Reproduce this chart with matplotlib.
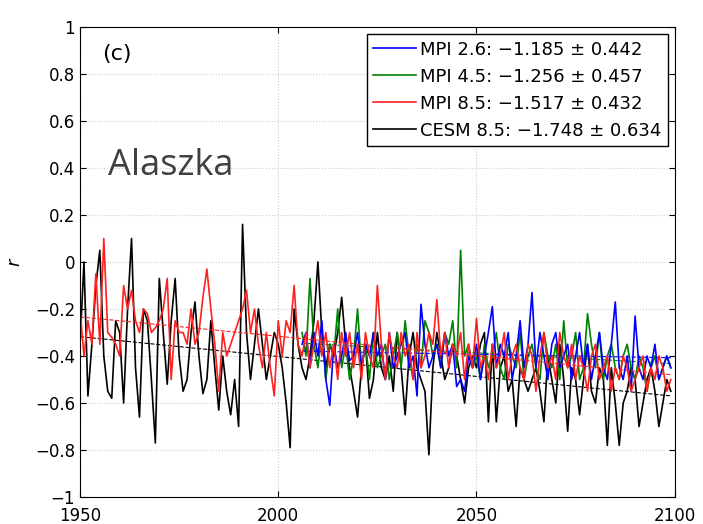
import numpy as np
import matplotlib.pyplot as plt

# annual correlation values
hist_years = np.arange(1950, 2100)
proj_years = np.arange(2006, 2100)

cesm85 = [-0.35, 0.0, -0.57, -0.35, -0.1, 0.05, -0.4, -0.55, -0.58, -0.25,
          -0.3, -0.6, -0.2, 0.1, -0.45, -0.66, -0.2, -0.25, -0.5, -0.77,
          -0.07, -0.3, -0.52, -0.25, -0.07, -0.4, -0.55, -0.5, -0.3, -0.17,
          -0.4, -0.56, -0.5, -0.25, -0.45, -0.63, -0.4, -0.55, -0.65, -0.5,
          -0.7, 0.16, -0.3, -0.5, -0.35, -0.2, -0.35, -0.5, -0.4, -0.3,
          -0.35, -0.45, -0.6, -0.79, -0.2, -0.35, -0.45, -0.5, -0.4, -0.25,
          0.0, -0.3, -0.45, -0.35, -0.4, -0.3, -0.15, -0.35, -0.45, -0.55,
          -0.66, -0.45, -0.35, -0.58, -0.5, -0.3, -0.45, -0.5, -0.4, -0.55,
          -0.3, -0.45, -0.65, -0.4, -0.3, -0.45, -0.5, -0.55, -0.82, -0.45,
          -0.3, -0.4, -0.5, -0.45, -0.35, -0.4, -0.5, -0.6, -0.45, -0.4,
          -0.45, -0.35, -0.3, -0.68, -0.35, -0.68, -0.45, -0.4, -0.55, -0.5,
          -0.7, -0.45, -0.5, -0.55, -0.5, -0.45, -0.55, -0.68, -0.4, -0.5,
          -0.6, -0.35, -0.5, -0.72, -0.45, -0.5, -0.65, -0.5, -0.35, -0.55,
          -0.6, -0.45, -0.5, -0.78, -0.45, -0.6, -0.78, -0.6, -0.55, -0.45,
          -0.5, -0.7, -0.6, -0.5, -0.45, -0.55, -0.7, -0.6, -0.5, -0.55]

mpi85 = [-0.2, -0.4, -0.25, -0.35, -0.05, -0.35, 0.1, -0.3, -0.32, -0.35,
         -0.4, -0.1, -0.2, -0.12, -0.25, -0.3, -0.2, -0.22, -0.3, -0.28,
         -0.25, -0.2, -0.07, -0.5, -0.25, -0.3, -0.3, -0.35, -0.2, -0.35,
         -0.3, -0.15, -0.03, -0.2, -0.35, -0.55, -0.3, -0.4, -0.35, -0.3,
         -0.25, -0.2, -0.12, -0.3, -0.2, -0.35, -0.45, -0.3, -0.45, -0.57,
         -0.25, -0.4, -0.25, -0.3, -0.1, -0.35,
         -0.4, -0.3, -0.45, -0.35,
         -0.25, -0.4, -0.3, -0.45, -0.35, -0.5, -0.3, -0.4, -0.3, -0.45,
         -0.35, -0.5, -0.3, -0.4, -0.45, -0.1, -0.35, -0.5, -0.3, -0.4,
         -0.45, -0.3, -0.4, -0.35, -0.5, -0.3, -0.45, -0.4, -0.3, -0.35,
         -0.16, -0.4, -0.3, -0.45, -0.35, -0.4, -0.3, -0.5, -0.35, -0.45,
         -0.24, -0.45, -0.4, -0.5, -0.35, -0.45, -0.4, -0.3, -0.5, -0.4,
         -0.35, -0.45, -0.5, -0.35, -0.4, -0.55, -0.4, -0.3, -0.45, -0.4,
         -0.5, -0.3, -0.4, -0.45, -0.35, -0.5, -0.4, -0.45, -0.55, -0.4,
         -0.35, -0.5, -0.45, -0.4, -0.55, -0.45, -0.5, -0.4, -0.45, -0.55,
         -0.5, -0.45, -0.4, -0.55, -0.45, -0.5, -0.4, -0.45, -0.55, -0.5]

mpi26 = [-0.35, -0.3, -0.45, -0.3,
         -0.4, -0.25, -0.5, -0.61, -0.35, -0.45, -0.4, -0.3, -0.42, -0.4,
         -0.3, -0.45, -0.35, -0.4, -0.3, -0.4, -0.35, -0.5, -0.3, -0.45,
         -0.4, -0.35, -0.3, -0.45, -0.4, -0.57, -0.18, -0.35, -0.45, -0.4,
         -0.35, -0.45, -0.3, -0.4, -0.35, -0.53, -0.5, -0.55, -0.4, -0.45,
         -0.35, -0.5, -0.4, -0.3, -0.19, -0.45, -0.35, -0.4, -0.3, -0.5,
         -0.4, -0.25, -0.45, -0.35, -0.13, -0.45, -0.3, -0.4, -0.5, -0.35,
         -0.3, -0.45, -0.4, -0.35, -0.5, -0.4, -0.3, -0.45, -0.35, -0.5,
         -0.4, -0.3, -0.45, -0.5, -0.35, -0.17, -0.45, -0.5, -0.4, -0.55,
         -0.23, -0.45, -0.5, -0.4, -0.45, -0.35, -0.5, -0.45, -0.4, -0.45]

mpi45 = [-0.3, -0.4, -0.07, -0.35,
         -0.45, -0.3, -0.5, -0.35, -0.4, -0.2, -0.45, -0.35, -0.5, -0.4,
         -0.2, -0.45, -0.35, -0.5, -0.3, -0.45, -0.4, -0.35, -0.5, -0.4,
         -0.3, -0.45, -0.25, -0.4, -0.5, -0.35, -0.45, -0.25, -0.3, -0.4,
         -0.35, -0.45, -0.3, -0.35, -0.25, -0.45, 0.05, -0.4, -0.35, -0.45,
         -0.4, -0.5, -0.35, -0.45, -0.4, -0.3, -0.45, -0.5, -0.35, -0.4,
         -0.45, -0.3, -0.5, -0.4, -0.35, -0.45, -0.5, -0.3, -0.4, -0.45,
         -0.35, -0.5, -0.25, -0.45, -0.4, -0.3, -0.5, -0.45, -0.22, -0.35,
         -0.45, -0.3, -0.5, -0.4, -0.35, -0.45, -0.5, -0.4, -0.35, -0.45,
         -0.5, -0.4, -0.45, -0.55, -0.45, -0.4, -0.5, -0.45, -0.4, -0.45]

labels = ['MPI 2.6: \u22121.185 \u00b1 0.442',
          'MPI 4.5: \u22121.256 \u00b1 0.457',
          'MPI 8.5: \u22121.517 \u00b1 0.432',
          'CESM 8.5: \u22121.748 \u00b1 0.634']

ytick_vals = [-1, -0.8, -0.6, -0.4, -0.2, 0, 0.2, 0.4, 0.6, 0.8, 1]
ytick_labels = ['\u22121', '\u22120.8', '\u22120.6', '\u22120.4', '\u22120.2', '0',
                '0.2', '0.4', '0.6', '0.8', '1']

plt.rcParams['font.family'] = ['DejaVu Sans']

fig = plt.figure(figsize=(7.03, 5.24), dpi=100)
ax = fig.add_axes([0.1138, 0.0515, 0.846, 0.897])

series = [
    (proj_years, mpi26, '#0000ff', labels[0]),
    (proj_years, mpi45, '#008000', labels[1]),
    (hist_years, mpi85, '#ff2020', labels[2]),
    (hist_years, cesm85, '#000000', labels[3]),
]

handles = {}
for x, y, c, lab in [series[3], series[1], series[0], series[2]]:
    ln, = ax.plot(x, y, color=c, lw=1.2, label=lab)
    handles[lab] = ln
    # linear trend
    p = np.polyfit(x, y, 1)
    ax.plot(x, np.polyval(p, x), color=c, lw=0.8, ls='--')

ax.legend([handles[l] for l in labels], labels, loc='upper right', fontsize=13,
          frameon=True, fancybox=False, edgecolor='black', framealpha=1,
          handlelength=2.4, borderaxespad=0.4, labelspacing=0.5,
          borderpad=0.35, handletextpad=0.2)

ax.set_xlim(1950, 2100)
ax.set_ylim(-1, 1)
ax.set_xticks([1950, 2000, 2050, 2100])
ax.set_yticks(ytick_vals)
ax.set_yticklabels(ytick_labels)
ax.tick_params(direction='in', top=True, right=True, labelsize=12, length=4)
ax.tick_params(axis='x', pad=7)
ax.grid(True, ls=':', color='#cccccc', lw=0.8)
ax.set_ylabel('r', fontstyle='italic', fontsize=13, labelpad=8)

ax.text(1955.5, 0.86, '(c)', fontsize=16)
ax.text(1957, 0.37, 'Alaszka', fontsize=26, color='#404040', family='Open Sans')

fig.savefig('out.png', dpi=100)
